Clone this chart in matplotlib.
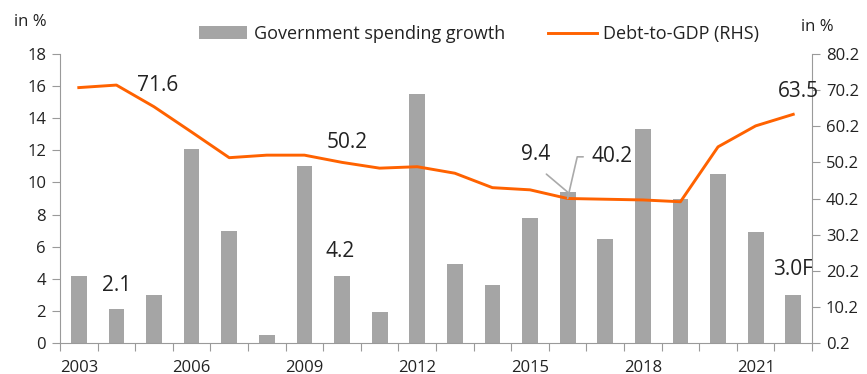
import matplotlib.pyplot as plt
import numpy as np

plt.rcParams['font.family'] = ['Open Sans', 'DejaVu Sans']

years = list(range(2003, 2023))
spending_growth = [4.2, 2.1, 3.0, 12.1, 7.0, 0.5, 11.0, 4.2, 1.9, 15.5,
                   4.9, 3.6, 7.8, 9.4, 6.5, 13.3, 9.0, 10.5, 6.9, 3.0]
debt_to_gdp = [70.9, 71.6, 65.6, 58.6, 51.5, 52.2, 52.2, 50.2, 48.6, 49.0,
               47.2, 43.2, 42.6, 40.2, 40.0, 39.8, 39.3, 54.5, 60.3, 63.5]
year_labels = ['2003', '2006', '2009', '2012', '2015', '2018', '2021']
left_ticks = [0, 2, 4, 6, 8, 10, 12, 14, 16, 18]
right_ticks = [0.2, 10.2, 20.2, 30.2, 40.2, 50.2, 60.2, 70.2, 80.2]

GREY = '#a5a5a5'
ORANGE = '#ff6200'
AXIS = '#9a9a9a'
TXT = '#222222'

fig = plt.figure(figsize=(8.67, 3.74), dpi=100)
ax = fig.add_axes([0.0692, 0.0829, 0.8674, 0.7727])
ax2 = ax.twinx()

x = np.arange(len(years))
bars = ax.bar(x, spending_growth, width=0.42, color=GREY, zorder=2,
              label='Government spending growth')
line, = ax2.plot(x, debt_to_gdp, color=ORANGE, lw=2.1, zorder=3,
                 label='Debt-to-GDP (RHS)')

ax.set_xlim(-0.5, len(years) - 0.5)
ax.set_ylim(0, 18)
ax2.set_ylim(0.2, 80.2)

# category boundaries get the tick marks, every third year gets a label
ax.set_xticks(np.arange(-0.5, len(years) + 0.5, 1.0))
ax.set_xticklabels([])
ax.set_xticks([years.index(int(y)) for y in year_labels], minor=True)
ax.set_xticklabels(year_labels, minor=True)
ax.tick_params(axis='x', which='major', length=6, color=AXIS, direction='out')
ax.tick_params(axis='x', which='minor', length=0, pad=12, labelsize=12, labelcolor=TXT)

ax.set_yticks(left_ticks)
ax.tick_params(axis='y', length=6, color=AXIS, labelsize=12, labelcolor=TXT, pad=4)
ax2.set_yticks(right_ticks)
ax2.set_yticklabels([f'{v:.1f}' for v in right_ticks])
ax2.tick_params(axis='y', length=6, color=AXIS, labelsize=12, labelcolor=TXT, pad=4)

for a in (ax, ax2):
    a.spines['top'].set_visible(False)
    for s in ('left', 'right', 'bottom'):
        a.spines[s].set_color(AXIS)
ax.spines['right'].set_visible(False)
ax2.spines['left'].set_visible(False)
ax2.spines['bottom'].set_visible(False)

fig.text(0.035, 0.94, 'in %', fontsize=12, color=TXT, ha='center', va='center')
fig.text(0.943, 0.928, 'in %', fontsize=12, color=TXT, ha='center', va='center')

ax.legend([bars, line], ['Government spending growth', 'Debt-to-GDP (RHS)'],
          ncol=2, frameon=False, fontsize=13, loc='center',
          bbox_to_anchor=(0.557, 1.069), handlelength=2.7, handleheight=0.7,
          columnspacing=2.4, handletextpad=0.35, labelcolor=TXT)

# value labels
lab = dict(fontsize=15, color=TXT, ha='center', va='center')
i04, i10, i16, i22 = [years.index(y) for y in (2004, 2010, 2016, 2022)]
ax2.annotate(f'{debt_to_gdp[i04]:.1f}', xy=(i04, debt_to_gdp[i04]),
             xytext=(30, 0), textcoords='offset points', **lab)
ax.annotate(f'{spending_growth[i04]:.1f}', xy=(i04, spending_growth[i04]),
            xytext=(0, 17), textcoords='offset points', **lab)
ax2.annotate(f'{debt_to_gdp[i10]:.1f}', xy=(i10, debt_to_gdp[i10]),
             xytext=(4, 14.5), textcoords='offset points', **lab)
ax.annotate(f'{spending_growth[i10]:.1f}', xy=(i10, spending_growth[i10]),
            xytext=(-1, 17), textcoords='offset points', **lab)
ax2.annotate(f'{debt_to_gdp[i22]:.1f}', xy=(i22, debt_to_gdp[i22]),
             xytext=(3.5, 16.5), textcoords='offset points', **lab)
ax.annotate(f'{spending_growth[i22]:.1f}F', xy=(i22, spending_growth[i22]),
            xytext=(-0.5, 18), textcoords='offset points', **lab)

# 2016 labels with leader lines
ax.annotate(f'{spending_growth[i16]:.1f}', xy=(i16, spending_growth[i16]),
            xytext=(-23, 27), textcoords='offset points', zorder=5,
            arrowprops=dict(arrowstyle='-', color='#aaaaaa', lw=1.2,
                            shrinkA=7, shrinkB=0, relpos=(0.5, 0)), **lab)
ax2.annotate(f'{debt_to_gdp[i16]:.1f}', xy=(i16, debt_to_gdp[i16]),
             xytext=(32, 30), textcoords='offset points', zorder=5,
             arrowprops=dict(arrowstyle='-', color='#aaaaaa', lw=1.2,
                             connectionstyle='angle,angleA=0,angleB=77,rad=0',
                             shrinkA=4, shrinkB=0, relpos=(0, 0.5)), **lab)

fig.savefig('out.png', dpi=100)
